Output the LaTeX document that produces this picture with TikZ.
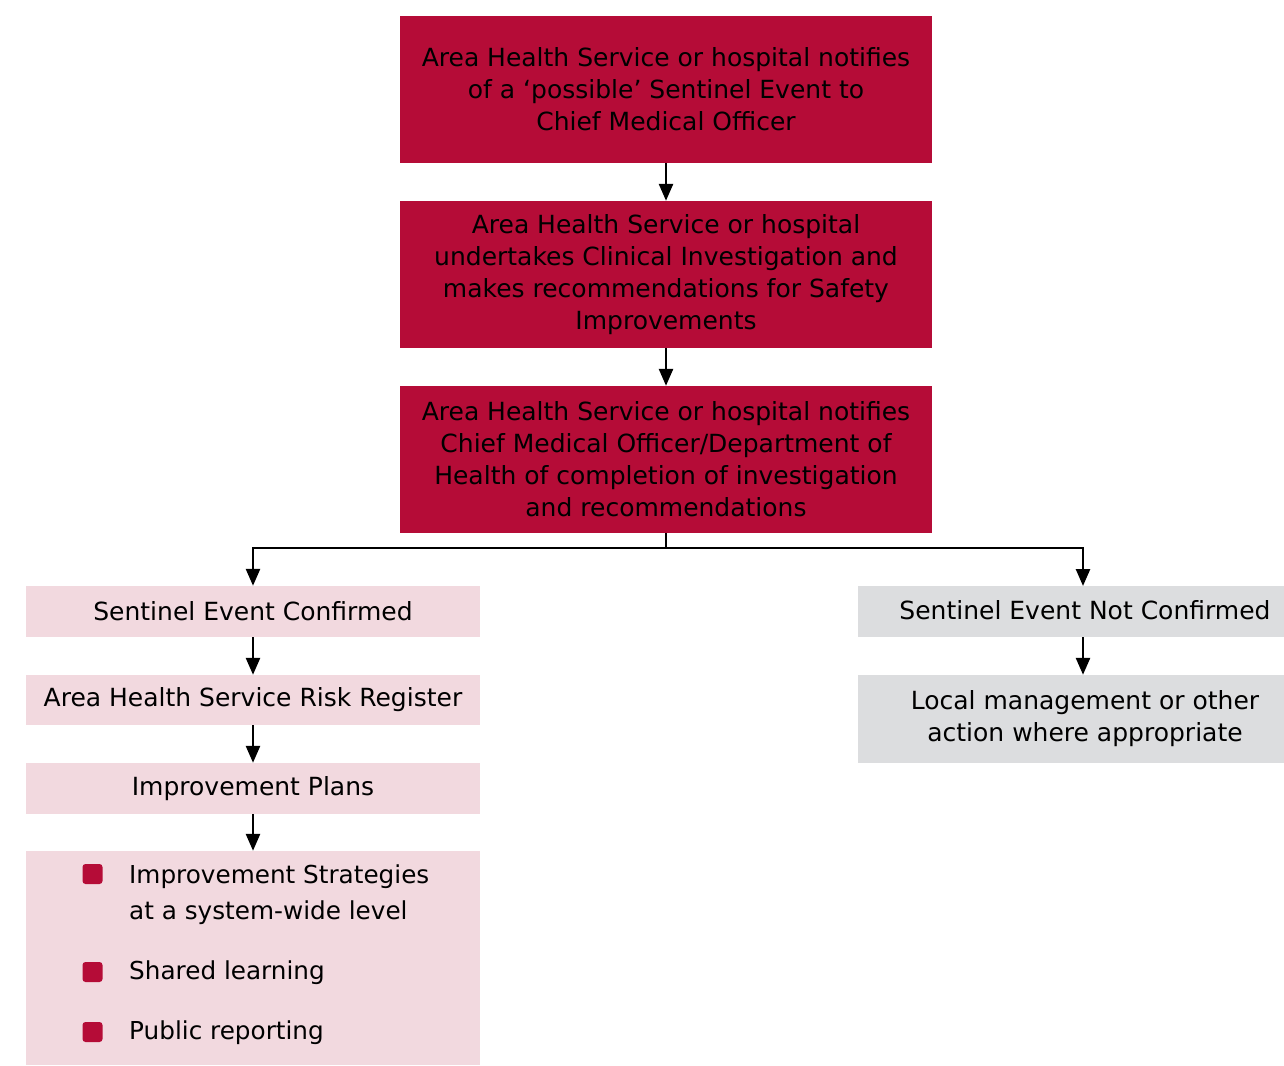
\documentclass[tikz,border=0pt]{standalone}
\usepackage{fontspec}
\setmainfont{DejaVu Sans}
\usetikzlibrary{arrows.meta}
\definecolor{crim}{RGB}{181,12,55}
\definecolor{pinkbg}{RGB}{242,217,223}
\definecolor{graybg}{RGB}{220,221,223}
\begin{document}
\begin{tikzpicture}[x=1pt,y=-1pt,
  txt/.style={font=\fontsize{25}{32}\selectfont, align=center, text=black},
  redbox/.style={fill=crim, draw=none, minimum width=532pt, minimum height=147pt, inner sep=0pt, txt},
  pinkbox/.style={fill=pinkbg, draw=none, minimum width=454pt, inner sep=0pt, txt},
  graybox/.style={fill=graybg, draw=none, minimum width=426pt, inner sep=0pt},
  bul/.style={fill=crim, draw=none, rounded corners=3pt, minimum width=20pt, minimum height=20pt, inner sep=0pt},
  bultxt/.style={font=\fontsize{24.7}{36}\selectfont, align=left, anchor=west, inner sep=0pt},
  arr/.style={line width=2.6pt, -{Triangle[width=14pt,length=17pt]}},
  ln/.style={line width=2.6pt}]
\useasboundingbox (0,0) rectangle (1284,1065);

\node[redbox] (b1) at (666,89.5) {Area Health Service or hospital notifies\\of a ‘possible’ Sentinel Event to\\Chief Medical Officer};
\node[redbox] (b2) at (666,274.5) {Area Health Service or hospital\\undertakes Clinical Investigation and\\makes recommendations for Safety\\Improvements};
\node[redbox] (b3) at (666,459.5) {Area Health Service or hospital notifies\\Chief Medical Officer/Department of\\Health of completion of investigation\\and recommendations};

\node[pinkbox, minimum height=51pt] (conf) at (253,611.5) {Sentinel Event Confirmed};
\node[pinkbox, minimum height=50pt] (risk) at (253,700) {Area Health Service Risk Register};
\node[pinkbox, minimum height=51pt] (plans) at (253,788.5) {Improvement Plans};
\node[pinkbox, minimum height=214pt] (list) at (253,958) {};

\node[graybox, minimum height=51pt] (nconfbox) at (1071,611.5) {};
\node[graybox, minimum height=88pt] (localbox) at (1071,719) {};
\node[txt, inner sep=0pt] (nconf) at (1085,610) {Sentinel Event Not Confirmed};
\node[txt, inner sep=0pt] (local) at (1085,719) {Local management or other\\action where appropriate};

\node[bul] (s1) at (92.5,874) {};
\node[bul] (s2) at (92.5,972) {};
\node[bul] (s3) at (92.5,1032) {};
\node[bultxt] (t1) at (129,895) {Improvement Strategies\\at a system-wide level};
\node[bultxt] (t2) at (129,973) {Shared learning};
\node[bultxt] (t3) at (129,1033) {Public reporting};

\coordinate (split) at (666,548);
\coordinate (rx) at (1083,586);
\draw[arr] (b1.south) -- (b2.north);
\draw[arr] (b2.south) -- (b3.north);
\draw[ln] (b3.south) -- (split);
\draw[arr] (split) -| (conf.north);
\draw[arr] (split) -| (rx);
\draw[arr] (conf.south) -- (risk.north);
\draw[arr] (risk.south) -- (plans.north);
\draw[arr] (plans.south) -- (list.north);
\draw[arr] (rx |- nconfbox.south) -- (rx |- localbox.north);
\end{tikzpicture}
\end{document}
